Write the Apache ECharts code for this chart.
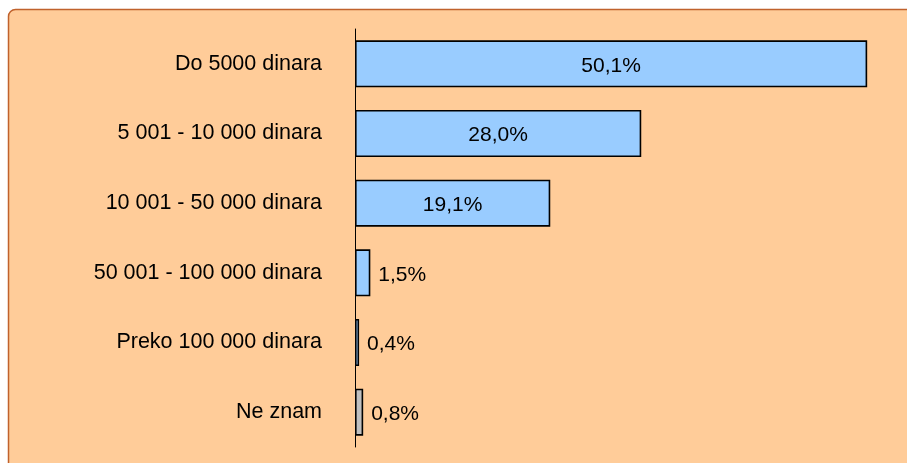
<!DOCTYPE html>
<html>
<head>
<meta charset="utf-8">
<script src="https://cdn.jsdelivr.net/npm/echarts@6/dist/echarts.min.js"></script>
<style>
  html, body { margin: 0; padding: 0; background: #ffffff; }
  #chart { width: 907px; height: 463px; }
</style>
</head>
<body>
<div id="chart"></div>
<script>
// Income brackets (monthly, in dinars) and share of respondents, %
const categories = [
  'Do 5000 dinara',
  '5 001 - 10 000 dinara',
  '10 001 - 50 000 dinara',
  '50 001 - 100 000 dinara',
  'Preko 100 000 dinara',
  'Ne znam'
];
const values = [50.1, 28.0, 19.1, 1.5, 0.4, 0.8];
// "Ne znam" (don't know) is drawn in grey, the rest in light blue
const barColors = ['#99CCFF', '#99CCFF', '#99CCFF', '#99CCFF', '#99CCFF', '#C0C0C0'];

const fmt = v => v.toFixed(1).replace('.', ',') + '%';

const chart = echarts.init(document.getElementById('chart'), null, { renderer: 'canvas' });

const seriesData = values.map((v, i) => ({
  value: v,
  itemStyle: { color: barColors[i] },
  label: v >= 10
    ? { position: 'inside' }
    : { position: 'right', distance: 8 }
}));

chart.setOption({
  animation: false,
  backgroundColor: '#ffffff',
  graphic: [{
    type: 'rect',
    z: -10,
    silent: true,
    shape: { x: 8.5, y: 9.5, width: 1000, height: 1000, r: [7, 0, 0, 0] },
    style: { fill: '#FFCC99', stroke: '#C0622C', lineWidth: 1.5 }
  }],
  grid: { left: 355, top: 29, bottom: 16, right: 2, containLabel: false },
  xAxis: {
    type: 'value',
    min: 0,
    max: 53.8,
    show: false
  },
  yAxis: {
    type: 'category',
    inverse: true,
    data: categories,
    axisLine: { show: true, lineStyle: { color: '#000000', width: 1 } },
    axisTick: { show: false },
    axisLabel: {
      margin: 33,
      fontSize: 21.5,
      color: '#000000',
      padding: [4, 0, 0, 0],
      fontFamily: 'Liberation Sans, Arial, sans-serif'
    }
  },
  series: [{
    type: 'bar',
    data: seriesData,
    barWidth: 47,
    itemStyle: { borderColor: '#000000', borderWidth: 1.6 },
    label: {
      show: true,
      formatter: p => fmt(p.value),
      fontSize: 21,
      color: '#000000',
      offset: [0, 2],
      fontFamily: 'Liberation Sans, Arial, sans-serif'
    }
  }]
});
</script>
</body>
</html>
